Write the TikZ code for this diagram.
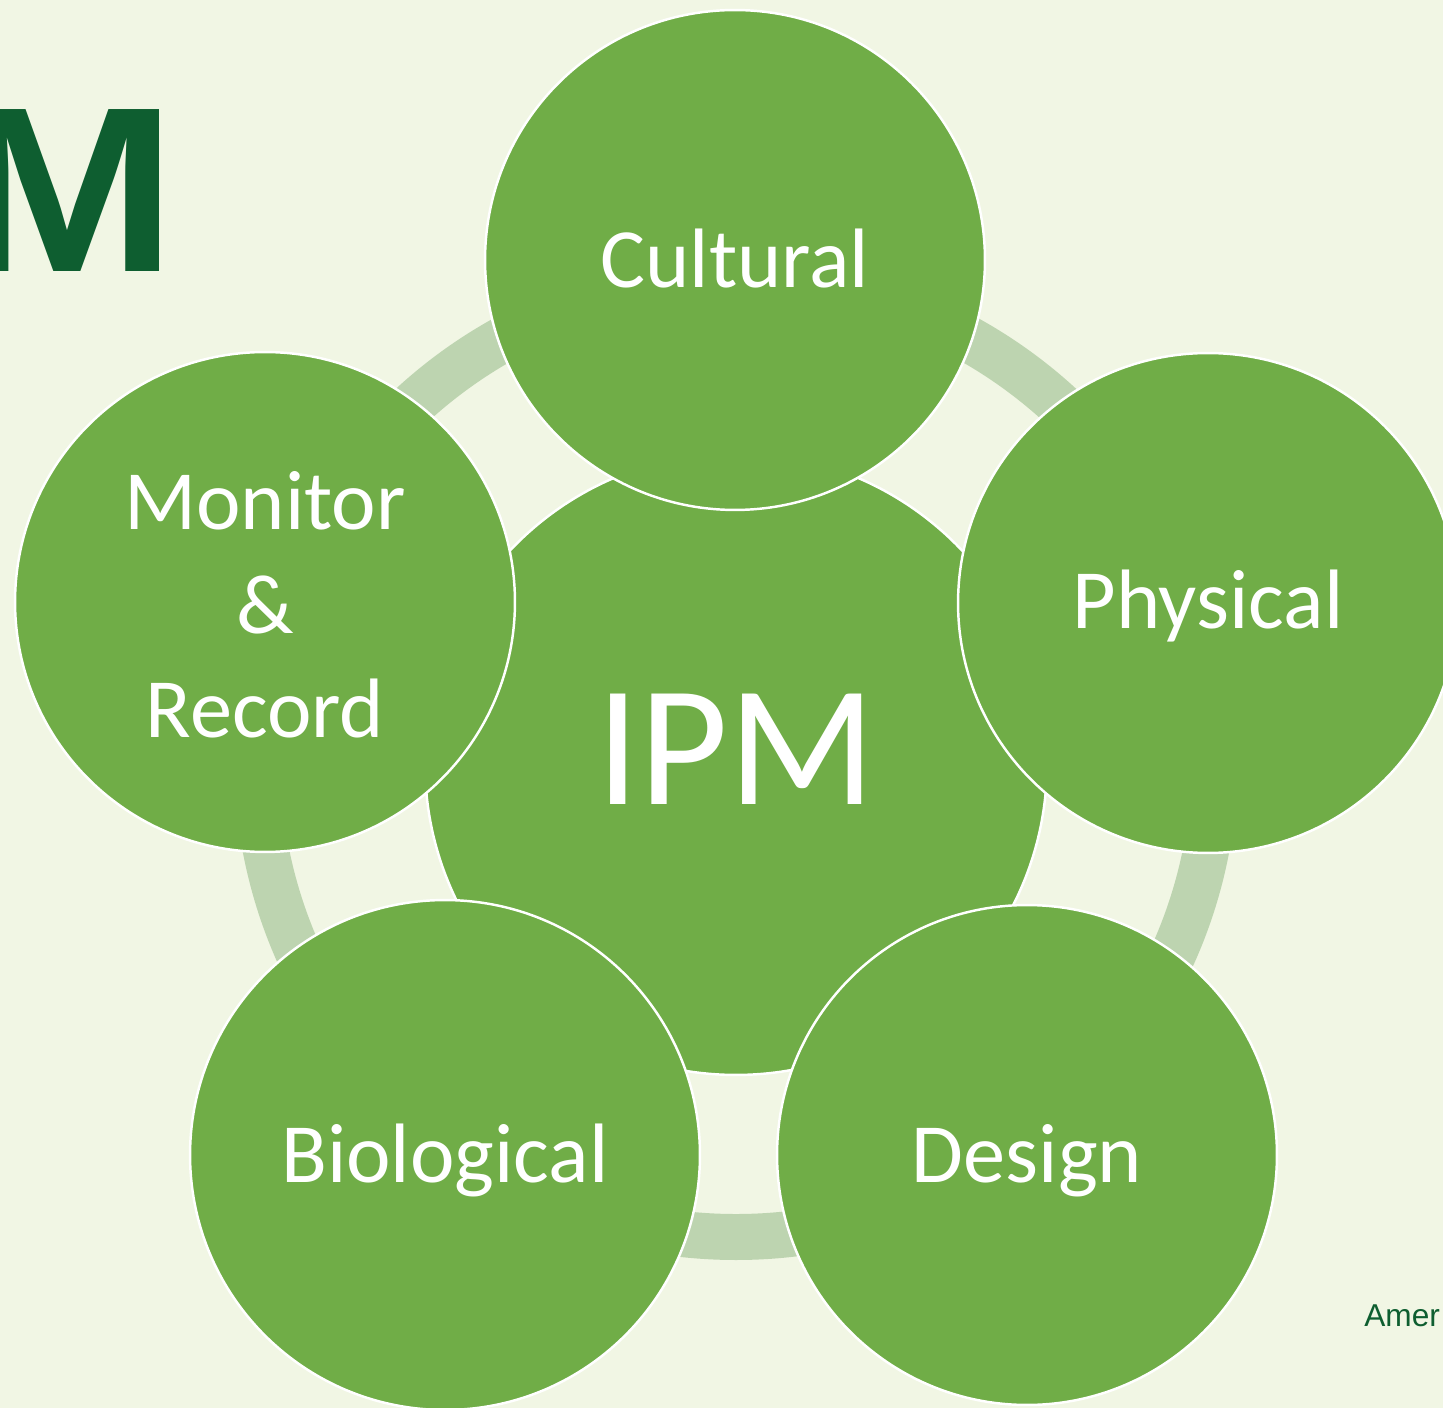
\documentclass[tikz,border=0pt]{standalone}
\usepackage{fontspec}
\setmainfont{Carlito}
\newfontfamily\headfont{Liberation Sans}
\definecolor{bgpale}{HTML}{F1F6E4}
\definecolor{ipmgreen}{HTML}{70AD47}
\definecolor{ringgreen}{HTML}{BDD4B0}
\definecolor{ipmdark}{HTML}{0E5E30}
\usetikzlibrary{positioning}
\tikzset{
	petal/.style={circle, fill=ipmgreen, draw=white, line width=1.4pt, minimum size=10cm, inner sep=0pt},
	hub/.style={petal, minimum size=12.44cm},
	petaltext/.style={text=white, font=\fontsize{48}{59}\selectfont, align=center, anchor=base, inner sep=0pt},
}

\begin{document}
\begin{tikzpicture}[x=0.02cm, y=-0.02cm]
	
	\useasboundingbox (0,0) rectangle (1443,1408);
	\clip (0,0) rectangle (1443,1408);
	% background
	\fill[bgpale] (0,0) rectangle (1443,1408);
	
	% title letter, cut by the edge
	\node[anchor=base west, inner sep=0pt, text=ipmdark, xscale=1.12, font=\headfont\bfseries\fontsize{134}{134}\selectfont] (title) at (-43,272) {M};
	
	% ring behind the circles
	\draw[color=ringgreen, line width=0.92cm] (736,758) circle (479);
	
	% centre
	\node[hub] (ipm) at (736,764) {};
	\node[petaltext, font=\fontsize{98}{110}\selectfont] (ipmlabel) at (736,804) {IPM};
	
	% the five methods
	\node[petal] (cultural) at (735,260) {};
	\node[petal] (physical) at (1208,603) {};
	\node[petal] (design) at (1027,1155) {};
	\node[petal, minimum size=10.2cm] (biological) at (445,1155) {};
	\node[petal] (monitor) at (265,602) {};
	
	\node[petaltext] (culturallabel) at (735,288) {Cultural};
	\node[petaltext] (physicallabel) at (1208,628) {Physical};
	\node[petaltext] (designlabel) at (1027,1182) {Design};
	\node[petaltext] (biologicallabel) at (445,1182) {Biological};
	\node[petaltext] (monitorlabel) at (265,737) {Monitor\\\&\\Record};
	
	% source note, cut by the edge
	\node[anchor=base west, inner sep=0pt, text=ipmdark, font=\headfont\fontsize{18}{18}\selectfont] (source) at (1364,1326) {Amer};
	
\end{tikzpicture}
\end{document}
